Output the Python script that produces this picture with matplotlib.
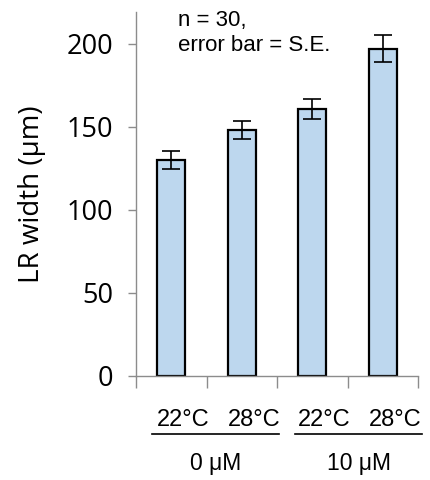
import matplotlib
matplotlib.use("Agg")
import matplotlib.pyplot as plt
from matplotlib.transforms import blended_transform_factory

# Data
temps = ["22°C", "28°C", "22°C", "28°C"]
groups = ["0 μM", "10 μM"]
widths = [130, 148, 160.5, 197]
se = [5.3, 5.5, 6.0, 8.2]

BAR_COLOR = "#BDD7EE"
AXIS_COLOR = "#8c8c8c"

fig = plt.figure(figsize=(4.3, 4.8), dpi=100)
ax = fig.add_axes([0.3163, 0.2167, 0.6558, 0.7583])

x = list(range(len(widths)))
ax.bar(x, widths, width=0.4, color=BAR_COLOR, edgecolor="black", linewidth=1.6, zorder=2)
ax.errorbar(x, widths, yerr=se, fmt="none", ecolor="black", elinewidth=1.2,
            capsize=6.5, capthick=1.2, zorder=3)

ax.set_xlim(-0.5, len(widths) - 0.5)
ax.set_ylim(0, 219)
ax.set_yticks([0, 50, 100, 150, 200])
ax.set_xticks([i - 0.5 for i in range(len(widths) + 1)])
ax.set_xticklabels([])

for side in ["top", "right"]:
    ax.spines[side].set_visible(False)
for side in ["left", "bottom"]:
    ax.spines[side].set_color(AXIS_COLOR)
    ax.spines[side].set_linewidth(1.0)

ax.tick_params(axis="y", direction="out", length=6, width=1.0, color=AXIS_COLOR,
               labelsize=19.5, pad=10.5)
ax.tick_params(axis="x", direction="out", length=8.5, width=1.0, color=AXIS_COLOR)
for lbl in ax.get_yticklabels():
    lbl.set_fontfamily("Open Sans")

# y label placed in figure coords
fig.text(32 / 430, 1 - 194 / 480, "LR width (μm)", rotation=90, ha="center",
         va="center", fontsize=20, family="Open Sans")

# Category labels below the axis
trans = blended_transform_factory(ax.transData, ax.transAxes)
for i, t in enumerate(temps):
    ax.text(i + 0.17, -0.121, t, transform=trans, ha="center", va="center",
            fontsize=17, family="Liberation Sans")

# Group underlines and labels
spans = [(-0.27, 1.53), (1.755, 3.56)]
for (x0, x1), g in zip(spans, groups):
    ax.plot([x0, x1], [-0.159, -0.159], transform=trans, color="black",
            linewidth=1.2, clip_on=False)
    ax.text((x0 + x1) / 2, -0.24, g, transform=trans, ha="center", va="center",
            fontsize=16.5, family="Liberation Sans")

ax.text(0.149, 0.941, "n = 30,\nerror bar = S.E.", transform=ax.transAxes,
        ha="left", va="center", fontsize=16, family="Liberation Sans",
        linespacing=1.25)

fig.savefig("out.png", dpi=100)
